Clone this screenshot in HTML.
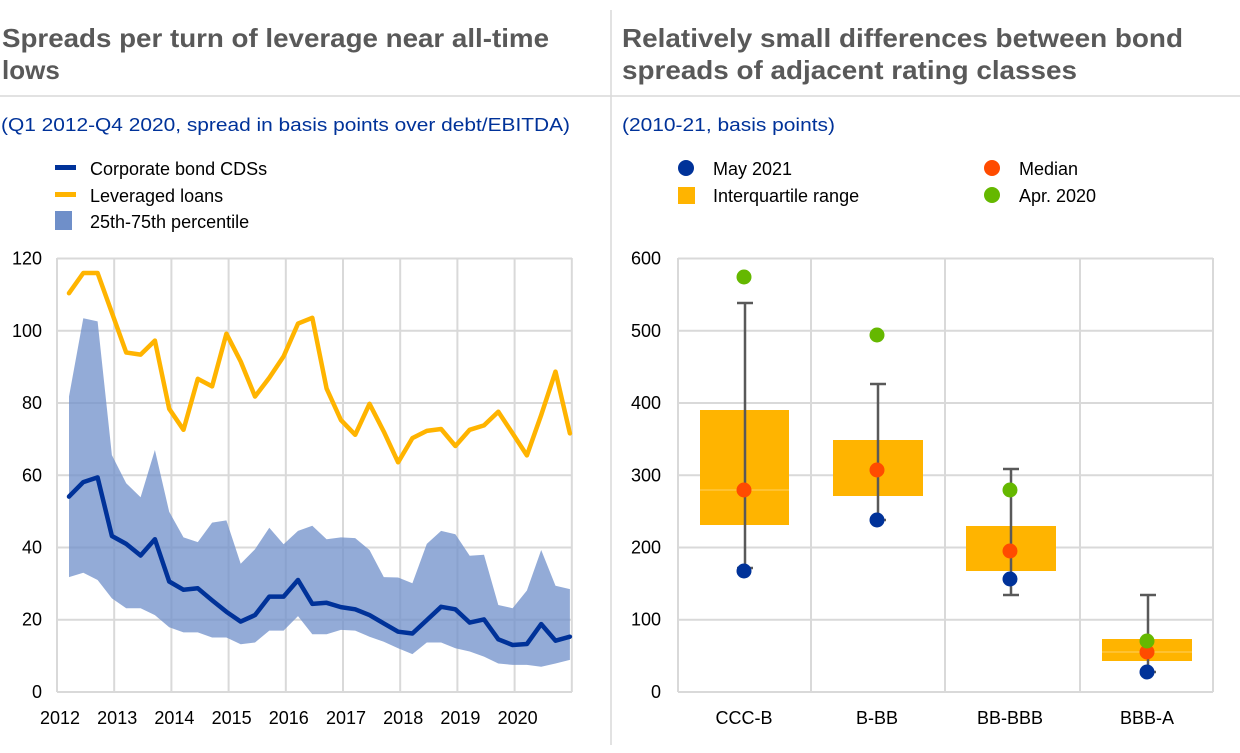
<!DOCTYPE html>
<html><head><meta charset="utf-8"><style>
html,body{margin:0;padding:0;background:#fff;}
svg{display:block;font-family:"Liberation Sans",Arial,sans-serif;}
</style></head><body>
<svg id="s" width="1240" height="753" viewBox="0 0 1240 753" xmlns="http://www.w3.org/2000/svg">
<line x1="0" y1="96" x2="1240" y2="96" stroke="#d9d9d9" stroke-width="1.5"/>
<line x1="611" y1="10" x2="611" y2="745" stroke="#d9d9d9" stroke-width="1.5"/>
<g font-weight="bold" font-size="26" fill="#595959">
<text x="2" y="47" textLength="547" lengthAdjust="spacingAndGlyphs">Spreads per turn of leverage near all-time</text>
<text x="2" y="79">lows</text>
<text x="622" y="47" textLength="561" lengthAdjust="spacingAndGlyphs">Relatively small differences between bond</text>
<text x="622" y="79" textLength="455" lengthAdjust="spacingAndGlyphs">spreads of adjacent rating classes</text>
</g>
<g font-size="18" fill="#003299">
<text x="1" y="131" textLength="569" lengthAdjust="spacingAndGlyphs">(Q1 2012-Q4 2020, spread in basis points over debt/EBITDA)</text>
<text x="622" y="131" textLength="213" lengthAdjust="spacingAndGlyphs">(2010-21, basis points)</text>
</g>
<g font-size="18" fill="#000">
<rect x="55" y="165" width="21" height="5" fill="#003299"/>
<text x="90" y="175">Corporate bond CDSs</text>
<rect x="55" y="192" width="21" height="5" fill="#ffb400"/>
<text x="90" y="202">Leveraged loans</text>
<rect x="55" y="211" width="17" height="19" fill="#6f8fc9"/>
<text x="90" y="228">25th-75th percentile</text>
<circle cx="686" cy="168" r="8" fill="#003299"/>
<text x="713" y="175">May 2021</text>
<rect x="678" y="187" width="17" height="17" fill="#ffb400"/>
<text x="713" y="202">Interquartile  range</text>
<circle cx="992" cy="168" r="8" fill="#ff4b00"/>
<text x="1019" y="175">Median</text>
<circle cx="992" cy="195" r="8" fill="#65b800"/>
<text x="1019" y="202">Apr. 2020</text>
</g>
<g id="grid" stroke="#d9d9d9" stroke-width="2" fill="none"></g>
<g id="left"></g>
<g id="right"></g>
<g id="labels" font-size="18" fill="#000"></g>
</svg>
<script>
var NS="http://www.w3.org/2000/svg";
function el(p,t,a,txt){var e=document.createElementNS(NS,t);for(var k in a)e.setAttribute(k,a[k]);if(txt!=null)e.textContent=txt;document.getElementById(p).appendChild(e);return e;}
var ys=[692,619.7,547.5,475.3,403,330.8,258.5];
// left grid
ys.forEach(function(y){el("grid","line",{x1:57,x2:572,y1:y,y2:y});});
for(var i=0;i<=9;i++){var x=57+i*57.2;el("grid","line",{x1:x,x2:x,y1:258,y2:692});}
// right grid
ys.forEach(function(y){el("grid","line",{x1:678,x2:1213,y1:y,y2:y});});
[678,811,945,1080,1213].forEach(function(x){el("grid","line",{x1:x,x2:x,y1:258,y2:692});});
// left data
var Y=[110.4,116,116,105,94,93.4,97.3,78.4,72.6,86.7,84.6,99.2,91.5,81.8,87,92.9,102,103.6,84,75.3,71.2,79.8,72.1,63.6,70.3,72.3,72.8,68.1,72.6,73.8,77.6,71.6,65.5,76.7,88.7,71.6];
var B=[54.1,58.1,59.4,43.2,41,37.8,42.3,30.6,28.3,28.7,25.4,22.2,19.5,21.3,26.4,26.4,31,24.4,24.7,23.5,22.9,21.3,19,16.7,16.2,19.9,23.6,22.9,19.2,20.1,14.6,13,13.3,18.8,14.2,15.3];
var U=[81.8,103.5,102.6,65.6,57.8,53.9,67,49.9,42.8,41.5,46.9,47.5,35.5,39.5,45.5,40.9,44.6,46,42.3,42.8,42.6,39.3,31.8,31.7,30.1,41,44.6,43.7,37.7,38,24.1,23.2,28.1,39.3,29.4,28.5];
var L=[31.8,33,31,25.9,23.2,23.2,21.3,17.9,16.5,16.5,15.1,15.1,13.2,13.7,17,17,21,16,16,17.2,17,15.3,13.9,12.1,10.5,13.7,13.7,12.1,11.2,9.8,7.9,7.5,7.5,7,7.9,8.9];
function px(i){return 69+i*14.31;}function py(v){return 692-v*3.612;}
var d="";for(i=0;i<36;i++)d+=(i?"L":"M")+px(i).toFixed(1)+" "+py(U[i]).toFixed(1);
for(i=35;i>=0;i--)d+="L"+px(i).toFixed(1)+" "+py(L[i]).toFixed(1);
el("left","path",{d:d+"Z",fill:"#6f8fc9","fill-opacity":"0.75"});
function line(a,c){var s="";for(var i=0;i<36;i++)s+=(i?"L":"M")+px(i).toFixed(1)+" "+py(a[i]).toFixed(1);el("left","path",{d:s,fill:"none",stroke:c,"stroke-width":4.5,"stroke-linejoin":"round","stroke-linecap":"round"});}
line(Y,"#ffb400");line(B,"#003299");
// left labels
for(i=0;i<=6;i++)el("labels","text",{x:42,y:ys[i]+6,"text-anchor":"end"},String(i*20));
for(i=0;i<9;i++)el("labels","text",{x:60+i*57.2,y:724,"text-anchor":"middle"},String(2012+i));
for(i=0;i<=6;i++)el("labels","text",{x:661,y:ys[i]+6,"text-anchor":"end"},String(i*100));
// right data
var cats=[
 {n:"CCC-B",c:744,b0:700,b1:789,t:410,bt:525,ln:490,wt:303,wb:568,g:277,o:490,bl:571},
 {n:"B-BB",c:877,b0:833,b1:923,t:440,bt:496,ln:null,wt:384,wb:520,g:335,o:470,bl:520},
 {n:"BB-BBB",c:1010,b0:966,b1:1056,t:526,bt:571,ln:null,wt:469,wb:595,g:490,o:551,bl:579},
 {n:"BBB-A",c:1147,b0:1102,b1:1192,t:639,bt:661,ln:652,wt:595,wb:672,g:641,o:652,bl:672}];
cats.forEach(function(k){
 el("right","rect",{x:k.b0,y:k.t,width:k.b1-k.b0,height:k.bt-k.t,fill:"#ffb400"});
 if(k.ln)el("right","line",{x1:k.b0,x2:k.b1,y1:k.ln,y2:k.ln,stroke:"#ffd060","stroke-width":1});
 var w={stroke:"#595959","stroke-width":2.5};
 el("right","line",Object.assign({x1:k.c+1,x2:k.c+1,y1:k.wt,y2:k.wb},w));
 el("right","line",Object.assign({x1:k.c-7,x2:k.c+9,y1:k.wt,y2:k.wt},w));
 el("right","line",Object.assign({x1:k.c-7,x2:k.c+9,y1:k.wb,y2:k.wb},w));
 el("right","circle",{cx:k.c,cy:k.bl,r:7.5,fill:"#003299"});
 el("right","circle",{cx:k.c,cy:k.o,r:7.5,fill:"#ff4b00"});
 el("right","circle",{cx:k.c,cy:k.g,r:7.5,fill:"#65b800"});
 el("labels","text",{x:k.c,y:724,"text-anchor":"middle"},k.n);
});
</script>
</body></html>
